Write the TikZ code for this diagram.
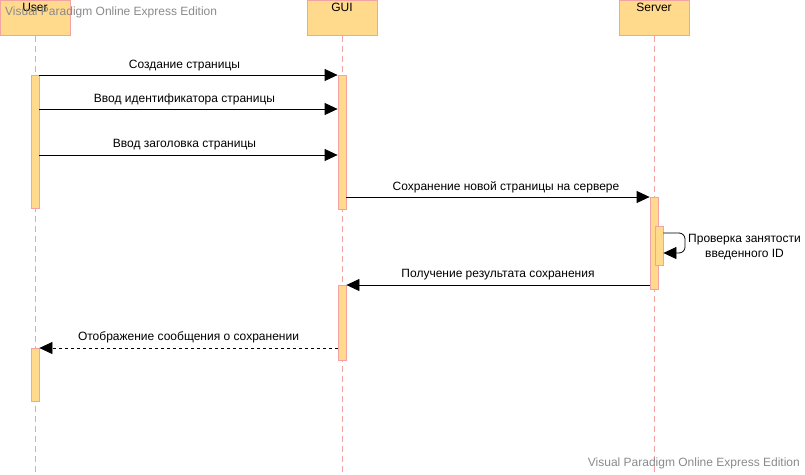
\documentclass[tikz,border=0pt]{standalone}
\usepackage{fontspec}
\setmainfont{Liberation Sans}
\usetikzlibrary{arrows.meta}
\definecolor{actfill}{HTML}{FFD98C}
\definecolor{actline}{HTML}{F4A3A3}
\definecolor{markgray}{HTML}{8A8A8A}

\begin{document}
\begin{tikzpicture}[x=1pt,y=-1pt,
   head/.style={draw=actline,fill=actfill,minimum width=70pt,minimum height=35pt,inner sep=0pt,line width=0.8pt,anchor=north},
   headtext/.style={font=\fontsize{12}{14}\selectfont,anchor=north,inner sep=0pt,yshift=-3pt},
   act/.style={draw=actline,fill=actfill,minimum width=8pt,inner sep=0pt,line width=0.8pt,anchor=north},
   life/.style={draw=actline,dash pattern=on 6pt off 4pt,line width=0.8pt},
   msg/.style={-{Triangle[length=13pt,width=12pt]},line width=0.8pt},
   lbl/.style={font=\fontsize{12}{14}\selectfont,inner sep=0pt,above=4pt},
   wm/.style={font=\fontsize{12}{14}\selectfont,text=markgray,inner sep=0pt}]
   \useasboundingbox (0,0) rectangle (805,474);

   % lifeline heads
   \node[head] (user)   at (35,0)  {};
   \node[head] (gui)    at (342,0) {};
   \node[head] (server) at (654,0) {};
   \node[headtext] (usert)   at (user.north)   {User};
   \node[headtext] (guit)    at (gui.north)    {GUI};
   \node[headtext] (servert) at (server.north) {Server};

   % lifelines
   \draw[life] (user.south)   -- ++(0,439);
   \draw[life] (gui.south)    -- ++(0,439);
   \draw[life] (server.south) -- ++(0,439);

   % activations
   \node[act,minimum height=133pt] (ua1) at (35,75)  {};
   \node[act,minimum height=53pt]  (ua2) at (35,348) {};
   \node[act,minimum height=134pt] (ga1) at (342,75) {};
   \node[act,minimum height=75pt]  (ga2) at (342,285) {};
   \node[act,minimum height=92pt]  (sa1) at (654,197) {};
   \node[act,minimum height=39pt]  (sa2) at (659,226) {};

   \coordinate (m2) at (0,109);
   \coordinate (m3) at (0,155);
   \coordinate (s1) at (0,233);
   \coordinate (s2) at (685,253);

   % messages
   \draw[msg] (ua1.north east) -- node[lbl,xshift=-4pt] {Создание страницы} (ga1.north west);
   \draw[msg] (ua1.east |- m2) -- node[lbl,xshift=-4pt] {Ввод идентификатора страницы} (ga1.west |- m2);
   \draw[msg] (ua1.east |- m3) -- node[lbl,xshift=-4pt,yshift=1pt] {Ввод заголовка страницы} (ga1.west |- m3);
   \draw[msg] (ga1.east |- sa1.north) -- node[lbl,xshift=8pt] {Сохранение новой страницы на сервере} (sa1.north west);
   \draw[msg,rounded corners=6pt] (sa2.east |- s1) -| (s2) -- (sa2.east |- s2);
   \node[font=\fontsize{12}{15}\selectfont,align=center,anchor=west,inner sep=0pt] (selflbl) at (688,247) {Проверка занятости\\введенного ID};
   \draw[msg] (sa1.west |- ga2.north) -- node[lbl,yshift=1pt] {Получение результата сохранения} (ga2.north east);
   \draw[msg,dashed] (ga2.west |- ua2.north) -- node[lbl,yshift=1pt] {Отображение сообщения о сохранении} (ua2.north east);

   % watermarks
   \node[wm,anchor=west] (wm1) at (5,12)  {Visual Paradigm Online Express Edition};
   \node[wm,anchor=east] (wm2) at (800,463) {Visual Paradigm Online Express Edition};
\end{tikzpicture}
\end{document}
